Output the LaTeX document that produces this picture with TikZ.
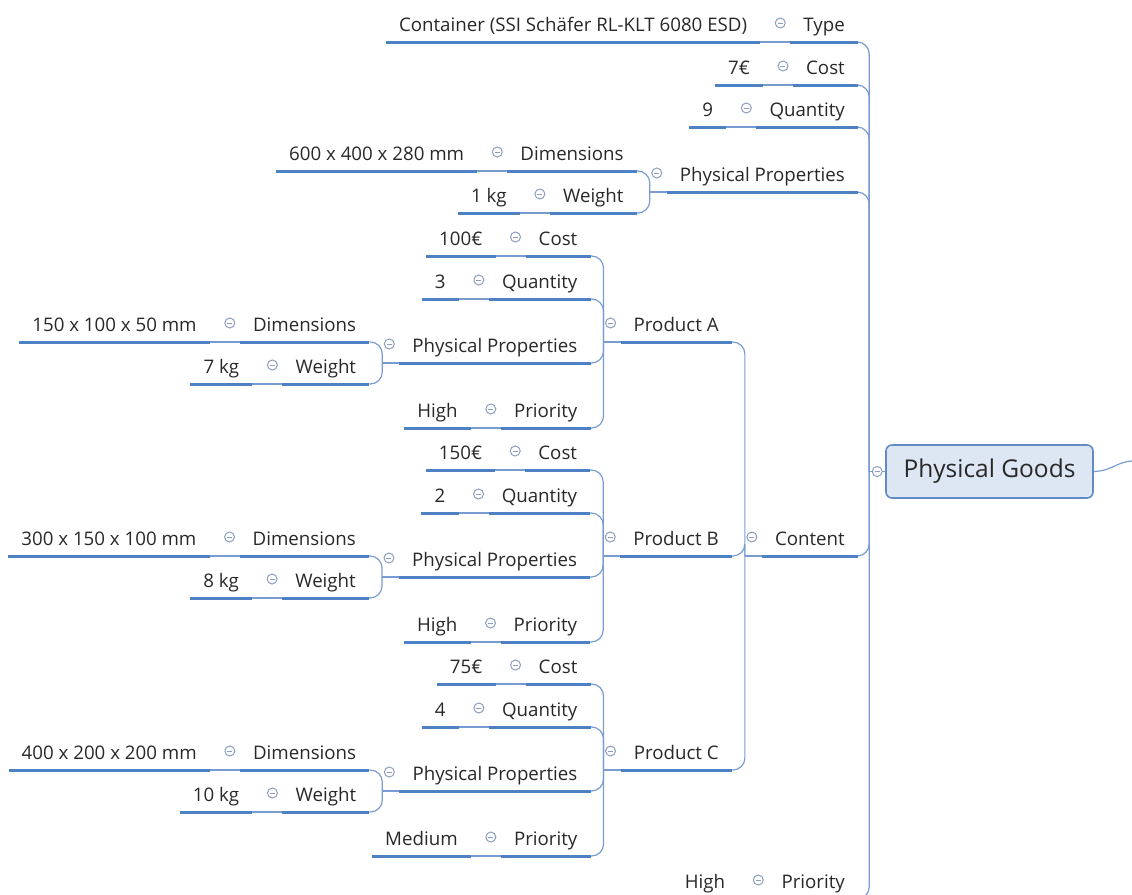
\documentclass[tikz,border=0pt]{standalone}
\usepackage{fontspec}
\setmainfont{Open Sans}
\usetikzlibrary{calc,positioning}

\definecolor{lineblue}{RGB}{78,128,196}
\definecolor{linkblue}{RGB}{120,156,210}
\definecolor{iconblue}{RGB}{140,158,192}
\definecolor{rootfill}{RGB}{221,231,244}
\definecolor{rootline}{RGB}{98,138,198}
\definecolor{textgray}{RGB}{40,40,40}

\tikzset{
  topic/.style={anchor=south east, inner xsep=13pt, inner ysep=6pt,
    text height=13.5pt, text depth=4pt, text=textgray,
    font=\fontsize{18.7}{22}\selectfont},
  maintopic/.style={draw=rootline, fill=rootfill, line width=1.6pt,
    rounded corners=6pt, text=textgray, minimum width=207pt,
    minimum height=53pt, font=\fontsize{24.5}{28}\selectfont},
  uline/.style={lineblue, line width=3pt},
  link/.style={linkblue, line width=1.2pt, rounded corners=12pt},
  fold/.style={circle, draw=iconblue, fill=white, line width=1pt,
    minimum size=10pt, inner sep=0pt,
    path picture={\draw[iconblue, line width=1pt]
      ([xshift=-2.5pt]path picture bounding box.center) --
      ([xshift=2.5pt]path picture bounding box.center);}}
}

% collapse mark in front of a topic
\newcommand{\foldmark}[1]{\node[fold] (#1-f) at ($(#1.south west)+(-10,-19)$) {};}
% branch point where the children of a topic split off
\newcommand{\branchpt}[1]{\coordinate (#1-b) at ($(#1.south west)+(-17,0)$);
  \draw[link] (#1-b) -- (#1.south west);}

\begin{document}
\begin{tikzpicture}[x=1pt, y=-1pt]
\useasboundingbox (0,0) rectangle (1132,894);

% central topic
\node[maintopic] (goods) at (989.5,471.5) {Physical Goods};
\coordinate (goods-b) at ($(goods.west)+(-16,0)$);
\coordinate (offpage) at (1132,461);
\draw[link] (goods.east) .. controls (1112,471) and (1116,462) .. (offpage);
\draw[link] (goods-b) -- (goods.west);

% first level
\node[topic] (type) at (858,42) {Type};
\node[topic] (cost) at (858,85) {Cost};
\node[topic] (qty) at (858,127) {Quantity};
\node[topic] (props) at (858,192) {Physical Properties};
\node[topic] (content) at (858,556) {Content};
\node[topic] (prio) at (858,899) {Priority};
\foreach \k in {type,cost,qty,props,content,prio}
  {\draw[link] (goods-b) |- (\k.south east);}

% values of the container
\node[topic] (typev) at ($(type.south west)+(-30,0)$) {Container (SSI Schäfer RL-KLT 6080 ESD)};
\node[topic] (costv) at ($(cost.south west)+(-30,0)$) {7€};
\node[topic] (qtyv) at ($(qty.south west)+(-30,0)$) {9};
\node[topic] (priov) at ($(prio.south west)+(-30,0)$) {High};

\coordinate (props-c) at ($(props.south west)+(-30,0)$);
\node[topic] (dim) at ($(props-c)+(0,-21)$) {Dimensions};
\node[topic] (wt) at ($(props-c)+(0,21)$) {Weight};
\node[topic] (dimv) at ($(dim.south west)+(-30,0)$) {600 x 400 x 280 mm};
\node[topic] (wtv) at ($(wt.south west)+(-30,0)$) {1 kg};
\branchpt{props}
\draw[link] (props-b) |- (dim.south east);
\draw[link] (props-b) |- (wt.south east);

\foreach \k in {type,cost,qty,prio,dim,wt}
  {\draw[link] (\k v.south east) -- (\k.south west);}

% products inside the container
\coordinate (content-c) at ($(content.south west)+(-30,0)$);
\branchpt{content}
\foreach \p/\dy/\pcost/\pnum/\pdims/\pmass/\pprio in {
    A/-214/100€/3/150 x 100 x 50 mm/7 kg/High,
    B/0/150€/2/300 x 150 x 100 mm/8 kg/High,
    C/214/75€/4/400 x 200 x 200 mm/10 kg/Medium} {
  \node[topic] (prod\p) at ($(content-c)+(0,\dy)$) {Product \p};
  \draw[link] (content-b) |- (prod\p.south east);
  \coordinate (prod\p-c) at ($(prod\p.south west)+(-30,0)$);
  \node[topic] (pcost\p) at ($(prod\p-c)+(0,-86)$) {Cost};
  \node[topic] (pqty\p) at ($(prod\p-c)+(0,-43)$) {Quantity};
  \node[topic] (pprops\p) at ($(prod\p-c)+(0,21)$) {Physical Properties};
  \node[topic] (pprio\p) at ($(prod\p-c)+(0,86)$) {Priority};
  \branchpt{prod\p}
  \foreach \k in {pcost,pqty,pprops,pprio}
    {\draw[link] (prod\p-b) |- (\k\p.south east);}
  % dimensions and weight of the product
  \coordinate (pprops\p-c) at ($(pprops\p.south west)+(-30,0)$);
  \node[topic] (pdim\p) at ($(pprops\p-c)+(0,-21)$) {Dimensions};
  \node[topic] (pwt\p) at ($(pprops\p-c)+(0,21)$) {Weight};
  \branchpt{pprops\p}
  \draw[link] (pprops\p-b) |- (pdim\p.south east);
  \draw[link] (pprops\p-b) |- (pwt\p.south east);
  % values
  \node[topic] (pcostv\p) at ($(pcost\p.south west)+(-30,0)$) {\pcost};
  \node[topic] (pqtyv\p) at ($(pqty\p.south west)+(-30,0)$) {\pnum};
  \node[topic] (pdimv\p) at ($(pdim\p.south west)+(-30,0)$) {\pdims};
  \node[topic] (pwtv\p) at ($(pwt\p.south west)+(-30,0)$) {\pmass};
  \node[topic] (ppriov\p) at ($(pprio\p.south west)+(-30,0)$) {\pprio};
  \foreach \k in {pcost,pqty,pdim,pwt,pprio}
    {\draw[link] (\k v\p.south east) -- (\k\p.south west);}
  \foreach \k in {prod,pcost,pqty,pprops,pprio,pdim,pwt,pcostv,pqtyv,pdimv,pwtv,ppriov}
    {\draw[uline] (\k\p.south west) -- (\k\p.south east);}
  \foreach \k in {prod,pcost,pqty,pprops,pprio,pdim,pwt}
    {\foldmark{\k\p}}
}

% underlines and collapse marks of the upper part
\foreach \k in {type,cost,qty,props,content,prio,typev,costv,qtyv,priov,dim,wt,dimv,wtv}
  {\draw[uline] (\k.south west) -- (\k.south east);}
\foreach \k in {type,cost,qty,props,content,prio,dim,wt}
  {\foldmark{\k}}
\node[fold] (goods-f) at ($(goods.west)+(-8,0)$) {};
\end{tikzpicture}
\end{document}
